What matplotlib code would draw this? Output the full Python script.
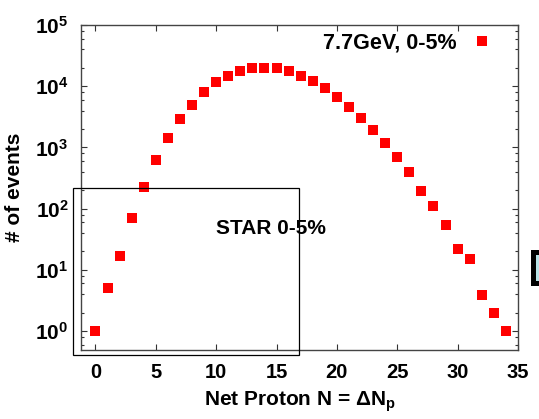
import matplotlib
matplotlib.use("Agg")
import matplotlib.pyplot as plt
from matplotlib.patches import Rectangle
from matplotlib.ticker import FixedLocator, LogLocator, FuncFormatter, NullLocator

plt.rcParams['font.family'] = ['Liberation Sans', 'DejaVu Sans']
plt.rcParams['font.weight'] = 'bold'
plt.rcParams['mathtext.fontset'] = 'custom'
plt.rcParams['mathtext.rm'] = 'Liberation Sans'
plt.rcParams['mathtext.bf'] = 'Liberation Sans:bold'
plt.rcParams['mathtext.it'] = 'Liberation Sans:bold'
plt.rcParams['mathtext.default'] = 'bf'

# data
net_proton = list(range(0, 35))
events = [1, 5, 16.6, 70, 224, 613, 1450, 2960, 5000, 8100,
          11700, 14800, 17800, 19900, 20000, 19500, 17700, 14900, 12100, 9200,
          6700, 4580, 3070, 1900, 1180, 694, 392, 192, 112, 54,
          21.8, 15, 3.9, 1.95, 1]
series_label = "7.7GeV, 0-5%"
x_ticks = [0, 5, 10, 15, 20, 25, 30, 35]
y_ticks = [1, 10, 100, 1000, 10000, 100000]

W, H = 539, 419
fig = plt.figure(figsize=(W / 100, H / 100), dpi=100)
ax = fig.add_axes([81 / W, 1 - 350 / H, (518 - 81) / W, (350 - 25) / H])

ax.plot(net_proton, events, linestyle='none', marker='s', markersize=7.3,
        color='#ff0000', markeredgewidth=0, label=series_label)

ax.set_yscale('log')
ax.set_xlim(-1.2, 35)
ax.set_ylim(0.49, 1e5)

ax.xaxis.set_major_locator(FixedLocator(x_ticks))
ax.xaxis.set_minor_locator(NullLocator())
ax.yaxis.set_major_locator(FixedLocator(y_ticks))
ax.yaxis.set_minor_locator(LogLocator(base=10, subs=[2, 4, 6, 8]))


def yfmt(v, pos):
    import math
    e = int(round(math.log10(v)))
    return r'$\mathbf{10^{%d}}$' % e


ax.yaxis.set_major_formatter(FuncFormatter(yfmt))
ax.tick_params(axis='both', which='both', direction='in', top=True, right=True,
               colors='#333333', labelcolor='black', width=0.8)
ax.tick_params(axis='both', which='major', length=4.5)
ax.tick_params(axis='y', which='minor', length=2.5)
ax.tick_params(axis='x', which='major', labelsize=14.5, pad=9)
ax.tick_params(axis='y', which='major', labelsize=15, pad=9)
for lab in ax.get_xticklabels():
    lab.set_fontweight('bold')

for s in ax.spines.values():
    s.set_color('#444444')
    s.set_linewidth(1.0)

ax.set_xlabel(r'Net Proton N = $\mathrm{\Delta}$N$_\mathbf{p}$', fontsize=15,
              fontweight='bold', labelpad=6)
ax.set_ylabel('# of events', fontsize=15, fontweight='bold', labelpad=8)

leg = ax.legend(loc='upper right', markerfirst=False, frameon=False,
                fontsize=15.5, handletextpad=0.64, borderaxespad=0.2,
                handlelength=1.0, bbox_to_anchor=(0.971, 1.017))
for t in leg.get_texts():
    t.set_fontweight('bold')

# STAR annotation box (overlay, extends past the axes)
fig.patches.append(Rectangle((73 / W, 1 - 355 / H), (299 - 73) / W, (355 - 188) / H,
                             transform=fig.transFigure, fill=False,
                             edgecolor='black', linewidth=0.9, zorder=5))
fig.text(216 / W, 1 - 228 / H, 'STAR 0-5%', fontsize=15, fontweight='bold',
         ha='left', va='center')

# partial box at right edge
fig.patches.append(Rectangle((533 / W, 1 - 283 / H), 20 / W, (283 - 252) / H,
                             transform=fig.transFigure, facecolor='#b8e2e6',
                             edgecolor='black', linewidth=3.6, zorder=5))

fig.savefig('out.png', dpi=100)
